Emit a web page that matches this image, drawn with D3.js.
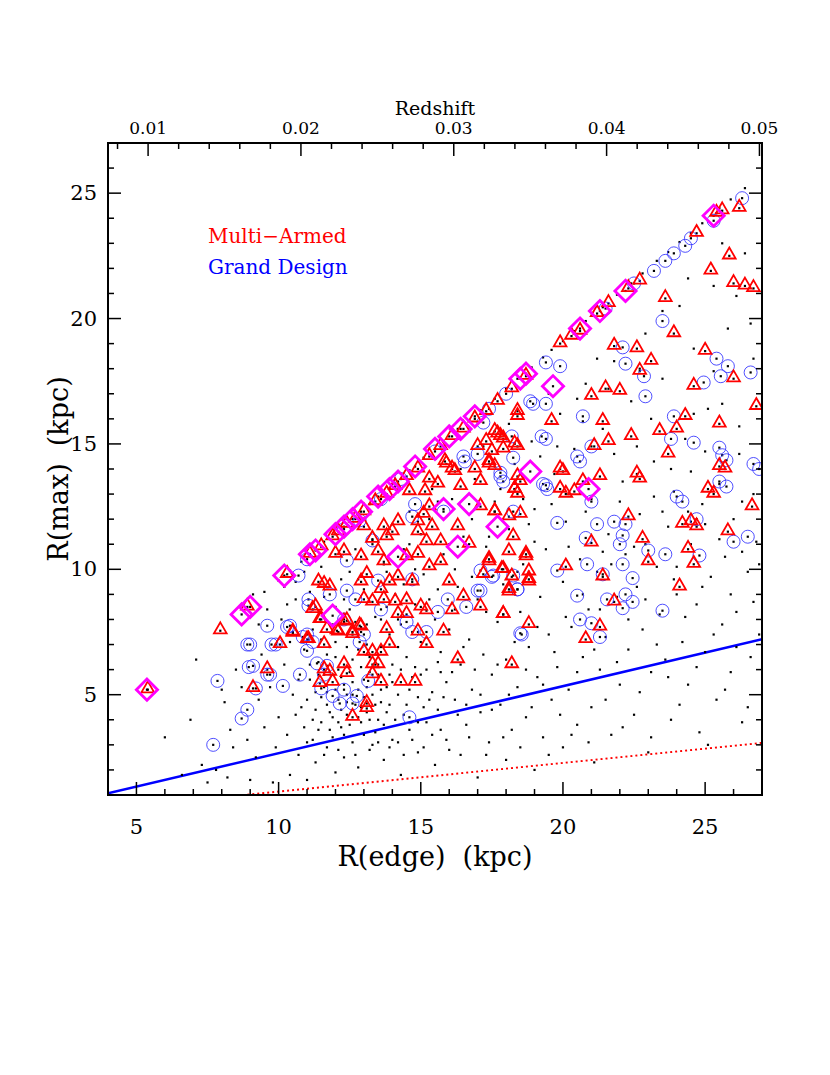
<!DOCTYPE html>
<html><head><meta charset="utf-8">
<script src="https://cdn.jsdelivr.net/npm/d3@7"></script>
<style>body{margin:0;background:#fff}</style></head>
<body><svg id="c" width="830" height="1075"></svg>
<script>
const xDomain=[4,27], yDomain=[1,27];
const xTicks=[5,10,15,20,25], yTicks=[5,10,15,20,25];
const zTicks=[0.01,0.02,0.03,0.04,0.05];
const zTickLabels=["0.01","0.02","0.03","0.04","0.05"];
const zKpcAt=[5.41,26.91];
const blueSlope=0.267, redSlope=0.114;
const legendLabels=["Multi\u2212Armed","Grand Design"];

const diamonds=[[5.37,5.2],[8.7,8.2],[9.0,8.5],[10.2,9.75],[11.1,10.6],[11.3,10.75],[11.9,8.15],[12.0,11.4],[12.3,11.7],[12.6,12.0],[12.9,12.3],[13.5,12.9],[13.9,13.2],[14.2,13.5],[14.2,10.5],[14.8,14.1],[15.5,14.8],[15.8,12.4],[16.0,15.3],[16.3,10.9],[16.4,15.6],[16.7,12.6],[16.9,16.1],[17.7,11.7],[18.5,17.6],[18.7,17.8],[18.85,13.9],[19.65,17.3],[20.6,19.6],[20.9,13.2],[21.3,20.3],[22.2,21.1],[25.3,24.1]];

const triangles=[[11.1,10.6],[11.5,10.9],[11.9,11.3],[12.1,11.5],[12.4,11.8],[12.7,12.0],[13.0,12.3],[13.4,12.7],[13.8,13.0],[14.1,13.3],[14.5,13.7],[14.9,14.0],[15.3,14.5],[15.7,14.9],[16.1,15.3],[16.5,15.6],[16.9,16.0],[17.3,16.3],[17.7,16.7],[18.2,17.2],[18.7,17.7],[19.9,19.0],[20.3,19.3],[20.6,19.5],[21.2,20.2],[21.6,20.6],[22.3,21.2],[22.7,21.5],[24.7,23.4],[25.4,24.2],[25.6,24.3],[26.2,24.4],
[25.85,22.5],[25.2,21.9],[26.0,21.4],[26.4,21.3],[26.7,21.2],[23.6,20.8],[23.9,19.4],[21.8,18.9],[22.6,18.8],[23.1,18.3],[22.7,17.9],[25.0,18.7],[26.0,17.6],[24.6,17.3],[26.8,16.5],[21.0,16.9],[21.5,17.2],[22.0,17.1],[21.4,15.9],[18.4,16.1],[19.6,15.9],[22.4,15.3],[23.4,15.5],[24.0,15.6],[24.3,16.1],[25.5,15.8],[21.6,15.1],[21.1,14.9],[23.7,14.6],[25.7,14.0],[22.7,13.6],[25.3,13.0],[20.0,13.9],[20.7,13.5],[21.3,13.7],[18.5,13.5],[18.4,13.0],[17.7,15.4],[17.9,15.2],[18.4,14.9],[17.4,14.2],[17.6,14.1],[17.0,14.9],[15.9,14.2],[16.2,13.9],[20.1,13.0],
[19.9,14.0],[22.6,13.8],[19.9,13.2],[20.4,13.1],[18.3,13.2],[18.4,13.7],[25.5,14.1],[25.1,13.2],[26.65,12.5],[22.3,12.1],[24.2,11.8],[24.5,11.9],[24.7,11.7],[25.8,11.5],[21.0,11.05],[22.8,11.2],[24.4,10.8],[24.6,10.2],[23.0,10.3],[20.1,10.1],[21.4,9.7],[24.1,9.3],[21.8,8.7],[21.3,7.7],[20.8,7.2],[18.8,7.8],[17.9,8.2],[18.2,6.2],[17.4,10.4],[17.9,10.0],[18.7,10.5],[17.2,9.8],[18.2,9.7],[18.8,9.5],[18.1,9.1],[17.6,12.3],[18.1,12.1],[18.5,12.2],[18.25,11.3],
[18.4,16.3],[17.6,15.5],[17.8,15.3],[17.3,15.1],[18.3,15.0],[17.5,14.7],[17.9,14.8],[17.4,14.3],[15.85,14.3],[16.1,14.0],[16.9,14.0],[15.3,13.6],[15.6,13.4],[16.4,13.3],[17.1,13.5],[18.3,13.2],[14.6,13.1],[15.15,13.1],[15.3,12.5],[15.1,12.2],[14.9,11.9],[15.4,11.7],[16.3,11.7],[17.1,12.5],[17.6,12.3],[18.1,10.7],[18.7,10.6],[14.2,11.9],[13.7,11.7],[13.0,11.7],[14.0,11.5],[13.3,11.2],[13.8,11.3],[14.9,11.5],[15.2,11.1],[15.7,11.1],[16.7,11.0],[12.3,10.7],[12.0,10.6],[12.9,10.5],[13.5,10.7],[13.7,10.3],[14.5,10.5],[14.9,10.6],[15.3,10.1],[15.7,10.3],[17.4,10.3],[17.85,10.0],[18.8,9.9],[18.8,9.6],[11.4,9.5],[11.6,9.4],[11.8,9.3],[12.9,9.5],[13.1,9.8],[13.6,9.2],[14.2,9.7],[13.9,9.5],[14.7,9.5],[16.0,9.5],[18.1,9.2],[16.5,8.9],[16.1,8.35],[17.1,8.5],[17.9,8.2],[13.0,8.8],[13.3,8.7],[13.7,8.8],[14.1,8.7],[14.5,8.75],[15.0,8.5],[15.2,8.35],[14.2,8.2],[14.5,8.2],[11.2,8.4],[11.45,8.0],[12.3,7.9],[11.7,7.6],[12.1,7.5],[12.6,7.5],[12.9,7.7],[10.5,7.45],[11.05,7.2],[10.05,7.0],[11.6,7.0],[13.0,6.7],[13.6,6.7],[13.8,7.6],[13.9,7.0],[14.9,7.5],[15.8,7.5],[15.2,7.0],[16.3,6.4],[13.3,6.2],[13.5,6.2],[12.3,6.2],[11.8,5.9],[11.6,6.0],[12.4,5.85],[13.3,5.8],[11.45,5.45],[11.9,5.5],[13.6,5.5],[14.3,5.5],[14.8,5.5],[9.6,6.0],[9.1,5.25],[13.1,4.65],
[7.95,7.55],[8.9,8.5],[10.5,7.5],[11.0,7.2],[5.4,5.2],[10.3,9.8],[11.3,8.5],[11.5,8.0],[12.05,7.55],[12.4,7.95],[12.85,7.75],[13.3,6.7],[12.6,7.4],[13.1,4.45],[12.6,4.1]];

const circles=[[26.3,24.8],[25.3,23.9],[24.5,23.2],[24.3,22.9],[23.6,22.3],[23.2,21.9],[19.9,18.1],[19.4,18.25],[23.5,19.9],[22.1,18.85],[22.2,18.2],[22.85,17.7],[25.4,18.4],[25.8,18.1],[25.55,17.7],[26.6,17.85],[24.95,17.45],[22.9,16.9],[20.7,16.1],[23.9,16.1],[18.95,16.6],[19.4,16.6],[19.4,15.2],[21.0,14.9],[23.8,15.2],[24.6,15.05],[25.5,14.85],[25.6,14.55],[25.75,14.35],[26.9,14.0],[20.6,14.3],[17.9,13.5],[25.75,13.3],[19.45,13.2],[24.2,12.7],[16.55,14.3],[17.0,14.6],[18.2,15.3],
[20.5,14.5],[25.5,13.5],[26.7,14.2],[24.0,12.9],[21.0,12.7],[19.8,11.85],[21.2,11.8],[21.8,11.9],[22.2,11.8],[22.1,11.35],[22.0,11.0],[20.8,11.25],[24.7,12.0],[26.0,11.1],[26.5,11.3],[24.8,10.55],[23.6,10.6],[23.0,10.75],[22.1,10.2],[20.85,10.2],[19.8,9.95],[21.4,9.8],[22.45,9.65],[20.5,8.95],[21.55,8.8],[22.2,9.0],[22.45,8.7],[22.1,8.45],[23.5,8.35],[20.6,8.0],[21.0,7.85],[21.3,7.3],[18.55,7.4],[18.25,12.3],[17.8,13.85],[19.4,13.35],[17.55,9.75],[18.4,9.2],[18.25,9.75],[17.1,9.15],
[18.85,16.7],[19.25,15.3],[17.2,15.85],[18.25,14.45],[17.8,13.7],[19.3,13.4],[16.5,14.5],[14.8,12.6],[14.7,12.1],[15.8,12.3],[17.1,9.95],[17.5,9.7],[18.4,9.2],[17.0,9.15],[15.95,8.8],[16.6,8.5],[15.6,8.3],[14.7,9.6],[13.5,9.55],[12.4,9.15],[12.7,8.8],[13.6,8.4],[14.5,7.9],[14.7,7.5],[13.0,7.4],[12.3,8.0],[11.05,8.55],[10.3,7.7],[10.85,7.3],[11.2,7.1],[9.9,7.0],[9.0,7.0],[9.1,6.15],[9.6,5.8],[10.15,5.35],[11.35,6.25],[11.6,5.8],[11.5,5.25],[11.9,4.95],[12.3,5.2],[12.75,4.95],[12.6,4.65],[12.15,4.65],[13.15,5.55],[12.85,7.1],[15.2,7.5],[18.5,7.45],[11.7,6.15],
[9.6,7.75],[8.9,7.0],[9.75,7.0],[8.95,6.1],[9.7,5.8],[7.85,5.55],[8.9,4.4],[8.7,4.05],[9.2,5.25],[10.4,7.75],[11.0,7.4],[11.0,6.75],[10.75,5.8],[10.7,9.75],[11.05,8.8],[12.4,10.35],[11.8,9.0],[12.85,11.95],[13.3,11.15],[7.7,3.0],
[11.0,10.4],[12.3,11.6],[13.6,12.8],[14.3,13.6],[15.5,14.7],[17.4,16.4],[18.0,17.0],[21.5,20.4],[22.5,21.4],[23.9,22.6],[14.6,4.1]];

const dots=[[9.5,9.1],[10.0,9.55],[10.4,9.95],[10.8,10.3],[11.6,11.1],[12.2,11.65],[12.8,12.2],[13.2,12.6],[13.7,13.1],[14.0,13.4],[14.6,13.95],[15.1,14.45],[15.8,15.1],[16.3,15.6],[16.7,15.95],[17.1,16.35],[17.6,16.8],[18.0,17.2],[18.4,17.6],[18.9,18.05],[19.3,18.45],[19.6,18.75],[20.0,19.1],[20.4,19.5],[20.8,19.9],[21.4,20.45],[21.9,20.95],[22.4,21.4],[22.8,21.8],[23.3,22.3],[23.7,22.65],[24.1,23.05],[24.5,23.4],[24.9,23.8],[25.5,24.4],[25.9,24.75],[26.4,25.2],
[6.0,3.3],[6.6,1.8],[6.9,4.0],[7.3,2.2],[7.5,1.5],[7.8,2.0],[8.1,4.7],[8.2,1.7],[8.3,3.6],[7.1,6.4],[8.0,5.2],[8.5,6.0],[8.4,2.9],[8.7,5.3],[8.9,3.2],[9.2,2.5],[9.0,1.6],[9.3,4.8],[9.5,3.7],[9.4,6.6],[9.6,8.4],[9.8,1.5],[9.9,2.9],[9.7,5.3],[10.0,4.1],[10.2,6.2],[10.3,3.4],[10.4,1.8],[10.5,5.0],[10.6,8.8],[10.7,2.6],[10.8,4.5],[10.9,6.8],[11.0,3.1],[11.0,1.6],[11.1,5.6],[11.2,4.0],[11.2,7.6],[11.3,2.3],[11.4,6.3],[11.4,3.6],[11.5,4.9],[11.6,5.3],[11.6,8.9],[11.7,2.9],[11.7,6.6],[11.8,4.3],[11.9,5.8],[11.9,3.3],[12.0,7.1],[12.0,1.9],[12.1,4.8],[12.1,6.0],[12.2,3.7],[12.2,9.6],[12.3,5.4],[12.3,2.5],[12.4,6.9],[12.4,4.2],[12.5,5.9],[12.5,8.4],[12.6,3.1],[12.6,6.4],[12.7,4.6],[12.7,7.9],[12.8,5.2],[12.8,2.1],[12.9,6.1],[12.9,3.9],[13.0,5.6],[13.0,9.2],[13.1,4.3],[13.1,7.0],[13.2,2.8],[13.2,6.5],[13.3,5.0],[13.4,3.5],[13.4,8.1],[13.5,5.8],[13.5,4.0],[13.6,6.9],[13.7,2.4],[13.7,10.2],[13.8,5.3],[13.9,4.6],[13.9,7.4],[14.0,3.2],[14.0,6.2],[14.1,9.0],[14.2,5.0],[14.3,1.8],[14.3,7.8],[14.4,4.2],[14.5,6.5],[14.6,3.6],[14.6,11.0],[14.7,5.7],[14.8,8.6],[14.9,2.7],[14.9,4.9],[15.0,7.1],[15.1,9.8],[15.2,3.9],[15.2,6.0],[15.3,12.0],[15.4,5.1],[15.5,2.2],[15.5,8.0],[15.6,4.4],[15.7,6.7],[15.8,10.6],[15.9,3.2],[15.9,5.5],[16.0,7.6],[16.1,12.8],[16.2,4.8],[16.3,9.3],[16.4,2.6],[16.4,6.2],[16.5,11.3],[16.6,3.8],[16.7,7.2],[16.8,5.2],[16.9,13.6],[17.0,8.8],[17.0,1.7],[17.1,4.3],[17.2,6.6],[17.3,10.9],[17.4,3.1],[17.5,5.8],[17.6,12.7],[17.7,7.9],[17.8,4.6],[17.9,9.4],[18.0,2.4],[18.0,6.4],[18.1,11.6],[18.2,3.6],[18.3,14.2],[18.4,5.3],[18.5,8.3],[18.6,10.2],[18.7,4.1],[18.8,6.9],[18.9,15.1],[19.0,2.0],[19.0,12.4],[19.1,5.7],[19.2,8.9],[19.3,3.3],[19.4,10.8],[19.5,7.4],[19.6,4.8],[19.7,13.8],[19.8,6.1],[19.9,16.2],[20.0,2.9],[20.0,9.5],[20.1,11.9],[20.2,5.2],[20.3,7.7],[20.4,14.8],[20.5,3.8],[20.6,10.4],[20.7,6.5],[20.8,17.4],[20.9,8.4],[21.0,4.5],[21.0,12.8],[21.1,2.3],[21.2,9.9],[21.3,6.0],[21.4,15.6],[21.5,7.3],[21.6,11.4],[21.7,3.4],[21.8,18.3],[21.9,8.9],[22.0,5.4],[22.1,13.5],[22.2,10.6],[22.3,6.8],[22.4,16.7],[22.5,4.2],[22.6,9.3],[22.7,12.2],[22.8,7.6],[22.9,19.4],[23.0,2.7],[23.1,5.9],[23.2,14.3],[23.3,10.1],[23.4,8.2],[23.5,17.6],[23.6,6.4],[23.7,11.7],[23.8,4.0],[23.9,13.1],[24.0,9.0],[24.1,20.5],[24.2,7.1],[24.3,15.2],[24.4,5.4],[24.5,11.0],[24.6,18.8],[24.7,8.6],[24.8,3.5],[24.9,12.6],[25.0,6.7],[25.1,16.4],[25.2,9.7],[25.3,21.3],[25.4,4.8],[25.5,13.4],[25.6,7.8],[25.7,10.5],[25.8,19.6],[25.9,5.9],[26.0,12.0],[26.1,8.3],[26.2,15.7],[26.3,3.9],[26.4,22.6],[26.5,9.9],[26.6,6.5],[26.7,13.0],[26.8,11.1],[26.9,7.4],
[11.3,5.1],[11.5,7.2],[11.8,6.9],[12.0,5.2],[12.2,4.4],[12.4,5.0],[12.6,5.5],[12.8,6.8],[13.0,4.9],[13.2,5.9],[13.4,6.2],[13.6,4.7],[12.1,3.9],[11.7,4.6],[11.9,7.8],[12.3,8.8],[13.8,8.5],[14.4,9.4],[14.8,10.0],[15.6,9.2],[16.2,10.0],[16.8,9.7],[17.3,8.3],[15.1,4.5],[15.7,5.9],[16.6,4.6],[14.2,6.9],[13.9,5.8],[12.9,7.5],[12.5,9.9],[11.1,9.1],[10.9,9.9],[10.1,8.0],[10.4,7.1],[10.2,9.3],[9.3,7.8],[9.1,9.0],[18.6,12.8],[19.2,14.5],[20.7,15.9],[21.6,17.2],[22.7,18.0],[23.5,20.3],[24.4,21.6],[25.6,23.0],[26.1,20.9],[26.7,18.4],[25.3,17.9],[24.6,16.2],[23.1,16.0],[19.5,17.0],[18.1,15.8],[17.2,14.9],[16.4,14.0],[15.4,13.2],[14.6,12.3],[14.0,11.8],[13.3,11.0],[12.7,10.8],[20.2,13.0],[21.8,14.6],[22.9,11.0],[24.0,10.1],[25.0,11.8],[26.3,10.7],
[10.6,4.2],[10.7,5.6],[10.9,3.7],[11.0,4.8],[11.1,6.2],[11.2,3.2],[11.3,4.4],[11.4,5.8],[11.5,3.9],[11.6,2.6],[11.7,5.1],[11.8,3.6],[11.9,4.1],[12.0,6.5],[12.1,2.8],[12.2,5.7],[12.3,3.4],[12.4,4.7],[12.5,3.8],[12.6,5.0],[12.7,2.6],[12.8,4.1],[12.9,4.5],[13.0,3.4],[13.1,5.3],[13.2,4.0],[13.3,3.0],[13.4,4.6],[13.5,3.1],[13.6,5.2],[13.7,3.8],[13.8,4.3],[13.9,2.9],[14.0,5.5],[14.1,4.0],[14.2,3.1],[14.3,6.0],[14.4,2.6],[14.5,4.6],[14.6,5.2],[14.7,3.2],[14.8,6.1],[14.9,3.9],[15.0,5.8],[15.1,2.9],[15.3,4.8],[15.4,3.4],[15.6,6.3],[15.7,3.6],[15.8,4.9],[16.0,2.8],[16.1,5.9],[16.3,4.2],[16.5,6.9],[16.7,3.3],[16.9,6.0],[17.1,5.0],[17.3,2.6],[17.5,4.4],[17.7,6.2],[17.9,3.3],[18.1,5.0],[18.3,7.1],[18.5,2.9],[18.7,6.0],[18.9,4.5],[19.1,7.7],[19.3,5.4],[19.5,2.6],[19.7,6.7],[19.9,4.2],[20.1,8.1],[20.3,3.4],[20.5,5.9],[20.7,9.0],[20.9,3.1],[21.1,6.8],[21.3,8.4],[21.5,4.8],[21.7,10.2],[21.9,6.3],[22.1,3.7],[22.3,8.0],[22.5,10.9],[22.7,5.1],[22.9,8.8],[23.1,3.3],[23.3,7.0],[23.5,12.3],[23.7,5.7],[23.9,9.6],[24.1,4.6],[24.3,8.1],[24.5,13.9],[24.7,6.1],[24.9,9.3],[25.1,3.0],[25.3,7.4],[25.5,11.2],[25.7,5.2],[25.9,9.0],[26.1,6.9],[26.3,12.7],[26.5,4.5],[26.7,8.7],[26.9,10.2],
[13.1,7.8],[13.8,9.9],[14.4,10.8],[15.0,11.4],[15.6,12.7],[16.2,8.4],[16.8,12.0],[17.4,11.3],[17.8,13.2],[18.4,9.9],[19.0,11.1],[19.6,12.6],[20.2,10.9],[20.8,12.3],[21.4,10.7],[22.0,12.7],[22.6,14.9],[23.2,12.9],[23.8,14.0],[24.4,12.3],[25.0,14.7],[25.6,16.6],[26.2,14.6],[26.6,19.8],[20.5,16.8],[21.2,18.4],[19.8,14.9],[18.8,11.8],[16.0,11.0],[15.3,8.8],[14.2,8.0],[13.6,8.0],[12.8,9.6],[12.0,8.5],[11.5,10.1],[10.6,9.5],[10.3,8.6]];

const W={l:108,t:143,w:654,h:652};
const svg=d3.select("#c");
const x=d3.scaleLinear().domain(xDomain).range([W.l,W.l+W.w]);
const y=d3.scaleLinear().domain(yDomain).range([W.t+W.h,W.t]);
const xz=d3.scaleLinear().domain([zTicks[0],zTicks[4]]).range([x(zKpcAt[0]),x(zKpcAt[1])]);
const font="DejaVu Serif";
const g=svg.append("g");
g.append("defs").append("clipPath").attr("id","cp").append("rect").attr("x",W.l).attr("y",W.t).attr("width",W.w).attr("height",W.h);
const P=g.append("g").attr("clip-path","url(#cp)");

P.append("line").attr("x1",x(xDomain[0])).attr("y1",y(blueSlope*xDomain[0])).attr("x2",x(xDomain[1])).attr("y2",y(blueSlope*xDomain[1])).attr("stroke","#0000ff").attr("stroke-width",2.5);
P.append("line").attr("x1",x(xDomain[0])).attr("y1",y(redSlope*xDomain[0])).attr("x2",x(xDomain[1])).attr("y2",y(redSlope*xDomain[1])).attr("stroke","#ff0000").attr("stroke-width",2).attr("stroke-dasharray","2,3");

P.selectAll(".dot").data(dots.concat(triangles,circles,diamonds)).join("rect").attr("x",d=>x(d[0])-1.1).attr("y",d=>y(d[1])-1.1).attr("width",2.2).attr("height",2.2).attr("fill","#000");
P.selectAll(".ci").data(circles).join("circle").attr("cx",d=>x(d[0])).attr("cy",d=>y(d[1])).attr("r",6.5).attr("fill","none").attr("stroke","#3b3bff").attr("stroke-width",0.9);
const tri=d3.symbol().type(d3.symbolTriangle).size(70);
P.selectAll(".tr").data(triangles).join("path").attr("d",tri).attr("transform",d=>`translate(${x(d[0])},${y(d[1])-1})`).attr("fill","none").attr("stroke","#ff0000").attr("stroke-width",1.8);
P.selectAll(".di").data(diamonds).join("rect").attr("x",-7.5).attr("y",-7.5).attr("width",15).attr("height",15).attr("transform",d=>`translate(${x(d[0])},${y(d[1])}) rotate(45)`).attr("fill","none").attr("stroke","#ff00ff").attr("stroke-width",2.8);

g.append("rect").attr("x",W.l).attr("y",W.t).attr("width",W.w).attr("height",W.h).attr("fill","none").attr("stroke","#000").attr("stroke-width",2);
const T=g.append("g").attr("stroke","#000").attr("stroke-width",1.5);
d3.range(5,27).forEach(v=>{const M=v%5===0,L=M?13:6;
 T.append("line").attr("x1",x(v)).attr("x2",x(v)).attr("y1",W.t+W.h).attr("y2",W.t+W.h-L);});
d3.range(2,27).forEach(v=>{const M=v%5===0,L=M?13:6;
 T.append("line").attr("y1",y(v)).attr("y2",y(v)).attr("x1",W.l).attr("x2",W.l+L);
 T.append("line").attr("y1",y(v)).attr("y2",y(v)).attr("x1",W.l+W.w).attr("x2",W.l+W.w-L);});
d3.range(8,51,2).forEach(k=>{const z=k/1000,M=k%10===0,L=M?13:6;
 if(xz(z)<=W.l+W.w+0.5) T.append("line").attr("x1",xz(z)).attr("x2",xz(z)).attr("y1",W.t).attr("y2",W.t+L);});

const txt=(s,X,Y,sz,anc,col)=>g.append("text").attr("x",X).attr("y",Y).attr("font-family",font).attr("font-size",sz).attr("text-anchor",anc||"middle").attr("fill",col||"#000").attr("xml:space","preserve").style("white-space","pre").text(s);
xTicks.forEach(v=>txt(v,x(v),834,21));
yTicks.forEach(v=>txt(v,97,y(v)+7,21,"end"));
zTicks.forEach((z,i)=>txt(zTickLabels[i],xz(z),134,17));
txt("Redshift",435,115,19);
txt("R(edge)  (kpc)",435,866,27);
g.append("text").attr("transform",`translate(68,${W.t+W.h/2}) rotate(-90)`).attr("font-family",font).attr("font-size",27).attr("text-anchor","middle").style("white-space","pre").text("R(max)  (kpc)");
txt(legendLabels[0],208,243,20,"start","#ff0000");
txt(legendLabels[1],208,274,20,"start","#0000ff");
</script></body></html>
